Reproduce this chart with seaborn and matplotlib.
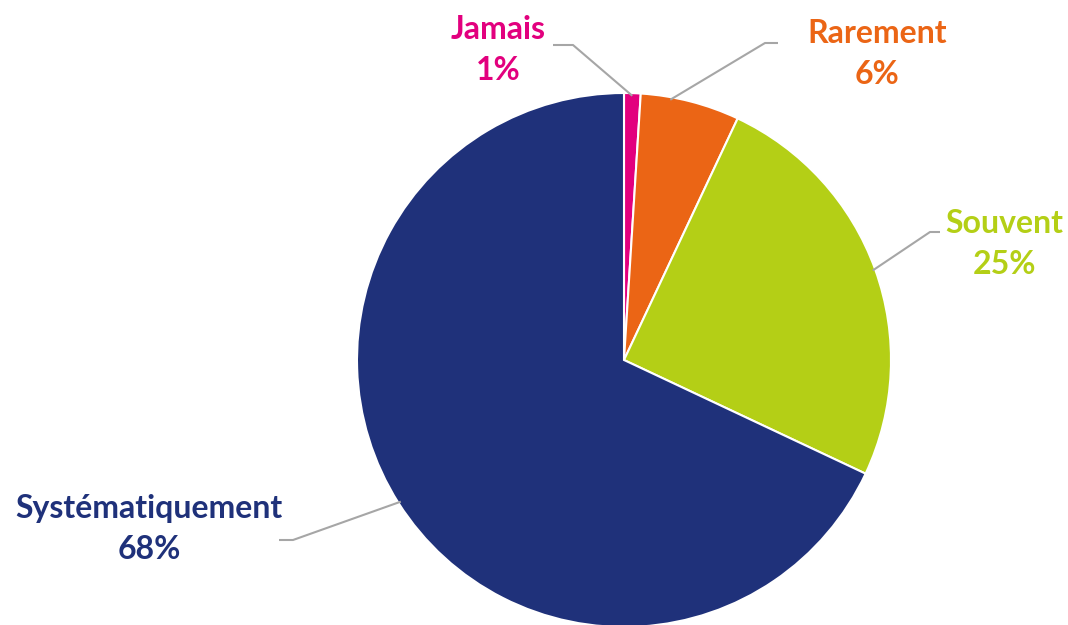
import numpy as np
import matplotlib
matplotlib.use("Agg")
import matplotlib.pyplot as plt
import seaborn as sns

sns.set_style("white")
plt.rcParams["font.family"] = ["Lato", "DejaVu Sans"]

categories = ["Jamais", "Rarement", "Souvent", "Systématiquement"]
shares = [1, 6, 25, 68]
colors = ["#E2007E", "#EB6515", "#B4CF16", "#1F317A"]

# layout (pixel coords, y measured from the top of the picture)
W, H = 1068, 625
CENTER = (624, 360)
RADIUS = 267
label_pos = {
    "Jamais": (498, 50),
    "Rarement": (877, 54),
    "Souvent": (1004, 244),
    "Systématiquement": (149, 529),
}
elbow = {
    "Jamais": [(573, 45), (553, 45)],
    "Rarement": [(765, 43), (778, 43)],
    "Souvent": [(930, 232), (940, 232)],
    "Systématiquement": [(293, 540), (279, 540)],
}
# where along each wedge the leader line touches (0 = start, 1 = end)
anchor = {"Jamais": 0.5, "Rarement": 0.3, "Souvent": 0.5, "Systématiquement": 0.5}

fig = plt.figure(figsize=(W / 100, H / 100), dpi=100)
ax = fig.add_axes([0, 0, 1, 1])

wedges, _ = ax.pie(shares, colors=colors, startangle=90, counterclock=False,
                   center=(CENTER[0], H - CENTER[1]), radius=RADIUS,
                   wedgeprops={"edgecolor": "white", "linewidth": 1.5})
# pie() resets the limits, so set them afterwards
ax.set_xlim(0, W)
ax.set_ylim(0, H)
ax.set_aspect("equal")
ax.axis("off")

for w, cat, val, col in zip(wedges, categories, shares, colors):
    # counterclock=False: theta2 is where the wedge starts going clockwise
    a = anchor[cat]
    mid = np.deg2rad(w.theta2 + (w.theta1 - w.theta2) * a)
    x0 = CENTER[0] + RADIUS * 0.99 * np.cos(mid)
    y0 = (H - CENTER[1]) + RADIUS * 0.99 * np.sin(mid)
    pts = [(x0, y0)] + [(x, H - y) for x, y in elbow[cat]]
    xs, ys = zip(*pts)
    ax.plot(xs, ys, color="#A6A6A6", linewidth=1.5, solid_capstyle="butt")
    lx, ly = label_pos[cat]
    ax.text(lx, H - ly, f"{cat}\n{val}%", color=col, fontsize=23, fontweight="bold",
            ha="center", va="center", linespacing=1.5)

fig.savefig("out.png", dpi=100)
